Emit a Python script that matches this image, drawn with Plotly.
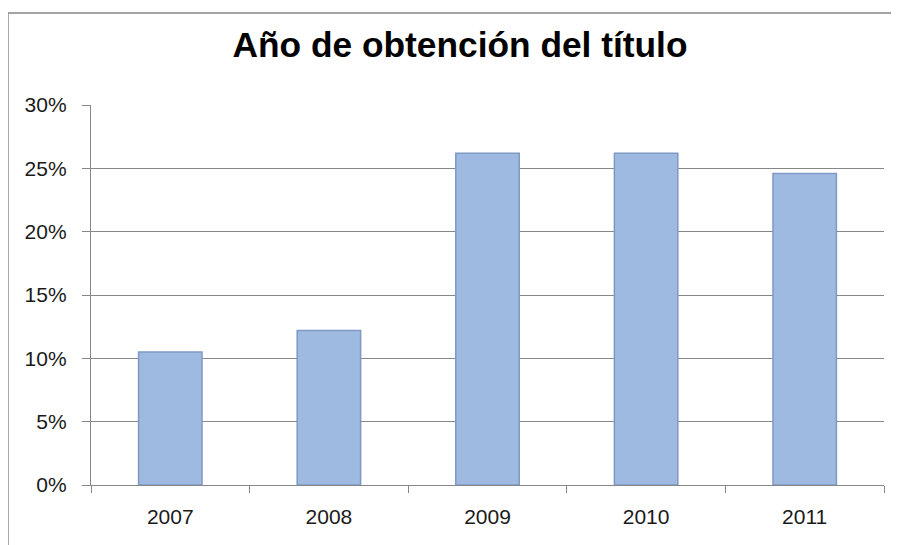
import plotly.graph_objects as go

years = ["2007", "2008", "2009", "2010", "2011"]
values = [0.105, 0.122, 0.262, 0.262, 0.246]
y_ticks = [0, 0.05, 0.10, 0.15, 0.20, 0.25, 0.30]
y_tick_labels = ["0%", "5%", "10%", "15%", "20%", "25%", "30%"]
title_text = "Año de obtención del título"

# page body has an 8px margin; compensate
W, H = 891, 537
ml, mr, mt, mb = 83, 15, 97, 60
pw, ph = W - ml - mr, H - mt - mb

fig = go.Figure(go.Bar(
    x=years, y=values,
    marker=dict(color="#9FBAE1", line=dict(color="#7F99C4", width=1.5)),
    width=0.4,
))

fig.update_layout(
    width=W, height=H,
    margin=dict(l=ml, r=mr, t=mt, b=mb),
    paper_bgcolor="white", plot_bgcolor="white",
    title=dict(text="<b>" + title_text + "</b>", x=452 / W, xanchor="center",
               y=1 - 37 / H, yanchor="middle",
               font=dict(family="Liberation Sans Narrow, Arial Narrow, Liberation Sans, Arial", size=35.3, color="black")),
    font=dict(family="Liberation Sans, Arial", size=21, color="#1a1a1a"),
    showlegend=False,
    bargap=0.6,
)
fig.update_yaxes(
    range=[0, 0.30], tickvals=y_ticks, ticktext=y_tick_labels,
    showgrid=True, gridcolor="#878787", gridwidth=1.4,
    showline=True, linecolor="#878787", linewidth=1.4,
    ticks="outside", ticklen=8, tickcolor="#878787", tickwidth=1.4, ticklabelstandoff=11,
    zeroline=False,
)
fig.update_xaxes(
    showline=True, linecolor="#878787", linewidth=1.4,
    ticks="outside", ticklen=7, tickcolor="#878787", tickwidth=1.4, tickson="boundaries",
    ticklabelstandoff=13,
    showgrid=False,
)
fig.add_shape(type="rect", xref="paper", yref="paper",
              x0=-83 / pw, x1=1 + 13 / pw, y0=-100 / ph, y1=1 + 92 / ph,
              line=dict(color="#878787", width=1.4), fillcolor="rgba(0,0,0,0)", layer="below")

fig.write_html("out.html")
